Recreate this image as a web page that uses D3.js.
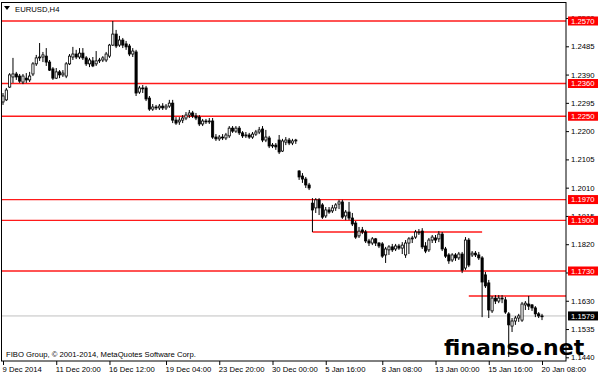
<!DOCTYPE html>
<html><head><meta charset="utf-8">
<script src="https://cdn.jsdelivr.net/npm/d3@7"></script>
<style>body{margin:0;background:#fff}svg{display:block}</style>
</head><body>
<svg id="c" width="600" height="376"></svg>
<script>
// EURUSD H4 candles (9 Dec 2014 .. 20 Jan 2015)
const open = [1.2298,1.2305,1.2348,1.2382,1.2392,1.2385,1.2365,1.2378,1.2372,1.2392,1.2426,1.2446,1.2449,1.2452,1.2432,1.2409,1.2378,1.2399,1.2389,1.2385,
1.2426,1.2449,1.2459,1.2449,1.2462,1.2446,1.2426,1.2436,1.2426,1.2436,1.2439,1.2439,1.2452,1.2489,1.2526,1.2489,1.2506,1.2493,1.2486,1.2459,
1.2466,1.2331,1.2345,1.2345,1.2311,1.2274,1.2281,1.2278,1.2284,1.2278,1.2284,1.2294,1.2237,1.2231,1.2237,1.2244,1.2254,1.2261,1.2251,1.2247,
1.2224,1.2234,1.2231,1.2234,1.2180,1.2174,1.2180,1.2177,1.2184,1.2210,1.2200,1.2210,1.2194,1.2184,1.2187,1.2180,1.2190,1.2197,1.2207,1.2170,
1.2177,1.2150,1.2153,1.2170,1.2133,1.2163,1.2170,1.2160,1.2167,1.2066,1.2049,1.2039,1.2019,1.1958,1.1942,1.1969,1.1952,1.1915,1.1935,1.1932,
1.1942,1.1955,1.1962,1.1915,1.1928,1.1908,1.1891,1.1848,1.1868,1.1861,1.1831,1.1824,1.1838,1.1824,1.1821,1.1784,1.1801,1.1811,1.1804,1.1814,
1.1807,1.1784,1.1824,1.1838,1.1844,1.1858,1.1864,1.1814,1.1801,1.1834,1.1841,1.1838,1.1854,1.1804,1.1784,1.1767,1.1784,1.1774,1.1787,1.1740,
1.1834,1.1784,1.1790,1.1784,1.1774,1.1717,1.1690,1.1596,1.1639,1.1629,1.1639,1.1633,1.1586,1.1545,1.1562,1.1572,1.1565,1.1616,1.1619,1.1616,
1.1606,1.1586,1.1579];
const high = [1.2328,1.2345,1.2395,1.2446,1.2399,1.2392,1.2392,1.2395,1.2399,1.2432,1.2456,1.2496,1.2466,1.2479,1.2439,1.2415,1.2412,1.2405,1.2405,1.2432,
1.2459,1.2483,1.2473,1.2479,1.2479,1.2452,1.2446,1.2449,1.2469,1.2446,1.2452,1.2466,1.2493,1.2570,1.2540,1.2520,1.2513,1.2503,1.2493,1.2479,
1.2473,1.2352,1.2355,1.2352,1.2318,1.2291,1.2288,1.2291,1.2294,1.2291,1.2305,1.2305,1.2247,1.2247,1.2254,1.2264,1.2271,1.2268,1.2261,1.2254,
1.2241,1.2241,1.2244,1.2244,1.2190,1.2187,1.2190,1.2194,1.2217,1.2217,1.2217,1.2217,1.2200,1.2197,1.2194,1.2197,1.2204,1.2214,1.2217,1.2204,
1.2184,1.2160,1.2160,1.2187,1.2174,1.2180,1.2177,1.2174,1.2174,1.2069,1.2059,1.2046,1.2026,1.1975,1.1975,1.1975,1.1958,1.1945,1.1945,1.1952,
1.1958,1.1969,1.1969,1.1935,1.1962,1.1925,1.1898,1.1878,1.1878,1.1868,1.1838,1.1844,1.1841,1.1827,1.1827,1.1811,1.1817,1.1821,1.1821,1.1821,
1.1827,1.1834,1.1844,1.1848,1.1868,1.1871,1.1874,1.1827,1.1841,1.1851,1.1851,1.1864,1.1861,1.1811,1.1790,1.1790,1.1790,1.1794,1.1794,1.1844,
1.1841,1.1797,1.1797,1.1794,1.1780,1.1727,1.1700,1.1646,1.1649,1.1649,1.1649,1.1643,1.1592,1.1572,1.1579,1.1586,1.1626,1.1629,1.1646,1.1619,
1.1612,1.1592,1.1586];
const low = [1.2288,1.2301,1.2345,1.2362,1.2372,1.2362,1.2358,1.2362,1.2365,1.2385,1.2419,1.2436,1.2432,1.2419,1.2402,1.2372,1.2375,1.2378,1.2382,1.2378,
1.2422,1.2439,1.2442,1.2442,1.2439,1.2419,1.2415,1.2415,1.2419,1.2429,1.2432,1.2432,1.2446,1.2486,1.2479,1.2483,1.2479,1.2473,1.2452,1.2449,
1.2318,1.2325,1.2328,1.2301,1.2268,1.2268,1.2271,1.2271,1.2271,1.2271,1.2278,1.2227,1.2221,1.2221,1.2227,1.2237,1.2244,1.2244,1.2237,1.2217,
1.2217,1.2224,1.2224,1.2174,1.2167,1.2167,1.2170,1.2170,1.2177,1.2194,1.2194,1.2187,1.2177,1.2177,1.2174,1.2174,1.2184,1.2190,1.2163,1.2163,
1.2143,1.2143,1.2137,1.2123,1.2130,1.2153,1.2153,1.2153,1.2157,1.2036,1.2026,1.2009,1.2002,1.1861,1.1925,1.1918,1.1905,1.1908,1.1922,1.1925,
1.1932,1.1938,1.1905,1.1901,1.1901,1.1881,1.1838,1.1841,1.1854,1.1824,1.1814,1.1817,1.1814,1.1807,1.1774,1.1757,1.1784,1.1794,1.1797,1.1801,
1.1787,1.1774,1.1787,1.1824,1.1838,1.1851,1.1804,1.1790,1.1794,1.1824,1.1824,1.1827,1.1797,1.1774,1.1754,1.1760,1.1764,1.1767,1.1723,1.1733,
1.1743,1.1777,1.1777,1.1767,1.1575,1.1673,1.1572,1.1589,1.1619,1.1622,1.1622,1.1586,1.1441,1.1525,1.1549,1.1559,1.1559,1.1599,1.1599,1.1596,
1.1575,1.1572,1.1565];
const close = [1.2318,1.2338,1.2389,1.2392,1.2382,1.2368,1.2385,1.2372,1.2385,1.2426,1.2446,1.2449,1.2456,1.2432,1.2405,1.2378,1.2399,1.2389,1.2395,1.2426,
1.2452,1.2459,1.2449,1.2462,1.2446,1.2426,1.2439,1.2419,1.2436,1.2439,1.2446,1.2459,1.2489,1.2526,1.2486,1.2506,1.2489,1.2483,1.2459,1.2469,
1.2328,1.2345,1.2342,1.2308,1.2274,1.2281,1.2278,1.2284,1.2278,1.2284,1.2294,1.2237,1.2227,1.2237,1.2244,1.2254,1.2261,1.2251,1.2244,1.2224,
1.2234,1.2231,1.2234,1.2180,1.2174,1.2180,1.2177,1.2187,1.2210,1.2200,1.2210,1.2194,1.2184,1.2187,1.2180,1.2190,1.2197,1.2204,1.2170,1.2180,
1.2150,1.2153,1.2147,1.2130,1.2167,1.2170,1.2160,1.2167,1.2170,1.2046,1.2039,1.2019,1.2009,1.1935,1.1969,1.1942,1.1911,1.1935,1.1928,1.1942,
1.1952,1.1962,1.1911,1.1928,1.1908,1.1888,1.1844,1.1864,1.1861,1.1831,1.1824,1.1838,1.1824,1.1814,1.1780,1.1804,1.1811,1.1801,1.1814,1.1807,
1.1817,1.1824,1.1838,1.1841,1.1861,1.1861,1.1811,1.1797,1.1834,1.1844,1.1834,1.1854,1.1804,1.1780,1.1764,1.1784,1.1774,1.1787,1.1733,1.1834,
1.1750,1.1790,1.1784,1.1774,1.1693,1.1680,1.1599,1.1639,1.1629,1.1639,1.1636,1.1592,1.1549,1.1562,1.1572,1.1579,1.1619,1.1622,1.1612,1.1606,
1.1586,1.1579,1.1579];

const priceTicks = [1.2580,1.2485,1.2390,1.2295,1.2200,1.2105,1.2010,1.1915,1.1820,1.1725,1.1630,1.1535,1.1440];
const timeTickBars = [0,16,32,49,65,81,97,114,130,146,162];
const timeTickLabels = ["9 Dec 2014","11 Dec 20:00","16 Dec 12:00","19 Dec 04:00","23 Dec 20:00","30 Dec 00:00","5 Jan 16:00","8 Jan 08:00","13 Jan 00:00","15 Jan 16:00","20 Jan 08:00"];
const levels = [1.2570,1.2360,1.2250,1.1970,1.1900,1.1730];
const segLevels = [1.1861,1.1646];
const segFrom = [93,140];
const segTo = [144,null];
const lastPrice = 1.1579;

const N = open.length;
const L = 2, R = 566, T = 2, B = 361;
const FONT = "'Liberation Sans', Arial, sans-serif";
const FS = 7.7;

const svg = d3.select("#c");
const x = d3.scaleLinear().domain([0, N - 1]).range([3, 542]);
const y = d3.scaleLinear().domain([1.1730, 1.2570]).range([271, 21]);

svg.append("rect").attr("width",600).attr("height",376).attr("fill","#fff");

// current price line
svg.append("line").attr("x1",L).attr("x2",R).attr("y1",y(lastPrice)).attr("y2",y(lastPrice))
  .attr("stroke","#c0c0c0").attr("stroke-width",1);

// level lines
svg.selectAll(".lvl").data(levels).join("line").attr("class","lvl")
  .attr("x1",L).attr("x2",R).attr("y1",d=>y(d)).attr("y2",d=>y(d))
  .attr("stroke","#ff1a1a").attr("stroke-width",1.3);
svg.selectAll(".seg").data(segLevels).join("line").attr("class","seg")
  .attr("x1",(d,i)=>x(segFrom[i])).attr("x2",(d,i)=>segTo[i]==null?R:x(segTo[i]))
  .attr("y1",d=>y(d)).attr("y2",d=>y(d))
  .attr("stroke","#ff1a1a").attr("stroke-width",1.3);

// candles
const idx = d3.range(N);
const g = svg.append("g");
g.selectAll(".wick").data(idx).join("line").attr("class","wick")
  .attr("x1",i=>x(i)).attr("x2",i=>x(i)).attr("y1",i=>y(high[i])).attr("y2",i=>y(low[i]))
  .attr("stroke","#000").attr("stroke-width",1);
const bw = 2.2;
g.selectAll(".body").data(idx).join("rect").attr("class","body")
  .attr("x",i=>x(i)-bw/2).attr("width",bw)
  .attr("y",i=>Math.min(y(open[i]),y(close[i])))
  .attr("height",i=>Math.max(0.8,Math.abs(y(open[i])-y(close[i]))))
  .attr("fill",i=>close[i]>open[i]?"#fff":"#000")
  .attr("stroke","#000").attr("stroke-width",0.8);

// frame
svg.append("rect").attr("x",1.5).attr("y",2.5).attr("width",R-1.5).attr("height",B-2.5)
  .attr("fill","none").attr("stroke","#000").attr("stroke-width",1);

// right axis
const ya = d3.axisRight(y).tickValues(priceTicks).tickSize(3).tickPadding(2).tickFormat(d3.format(".4f"));
const yg = svg.append("g").attr("transform",`translate(${R},0)`).call(ya);
yg.select(".domain").remove();
yg.selectAll("text").attr("font-family",FONT).attr("font-size",FS).attr("fill","#000");
yg.selectAll("line").attr("stroke","#000");

// bottom axis
const xa = d3.axisBottom(x).tickValues(timeTickBars).tickSize(4).tickPadding(2).tickFormat((d,i)=>timeTickLabels[i]);
const xg = svg.append("g").attr("transform",`translate(0,${B})`).call(xa);
xg.select(".domain").remove();
xg.selectAll("text").attr("font-family",FONT).attr("font-size",FS).attr("fill","#000")
  .attr("text-anchor","start").attr("dx",-1);
xg.selectAll("line").attr("stroke","#000");

// level labels
const lab = svg.selectAll(".lab").data(levels).join("g").attr("class","lab")
  .attr("transform",d=>`translate(${R+2},${y(d)})`);
lab.append("rect").attr("x",0).attr("y",-4.5).attr("width",30).attr("height",9).attr("fill","#ff0000");
lab.append("text").attr("x",3).attr("dy","0.35em").text(d=>d.toFixed(4))
  .attr("font-family",FONT).attr("font-size",FS).attr("fill","#fff");

const cur = svg.append("g").attr("transform",`translate(${R+2},${y(lastPrice)})`);
cur.append("rect").attr("x",0).attr("y",-4.5).attr("width",30).attr("height",9).attr("fill","#000");
cur.append("text").attr("x",3).attr("dy","0.35em").text(lastPrice.toFixed(4))
  .attr("font-family",FONT).attr("font-size",FS).attr("fill","#fff");

// title
svg.append("path").attr("d","M4,6 L10,6 L7,10 Z").attr("fill","#000");
svg.append("text").attr("x",15).attr("y",12).text("EURUSD,H4")
  .attr("font-family",FONT).attr("font-size",FS).attr("fill","#000");

svg.append("text").attr("x",6).attr("y",357).text("FIBO Group, © 2001-2014, MetaQuotes Software Corp.")
  .attr("font-family",FONT).attr("font-size",FS).attr("fill","#000");

// watermark
svg.append("text").attr("x",444).attr("y",355).text("finanso.net")
  .attr("font-family","'DejaVu Sans', sans-serif").attr("font-weight","bold").attr("font-size",22).attr("fill","#000");
</script>
</body></html>
